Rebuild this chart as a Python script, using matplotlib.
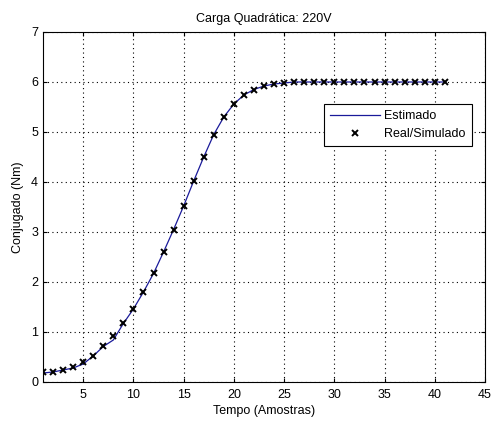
import matplotlib
matplotlib.use("Agg")
import matplotlib.pyplot as plt

plt.rcParams['font.family'] = ['Liberation Sans', 'DejaVu Sans']

tempo = list(range(1, 42))
real = [0.20, 0.20, 0.25, 0.30, 0.40, 0.53, 0.72, 0.93, 1.18, 1.47, 1.80, 2.18, 2.60,
        3.05, 3.52, 4.02, 4.50, 4.95, 5.30, 5.56, 5.74, 5.85, 5.92, 5.96, 5.98,
        6.0, 6.0, 6.0, 6.0, 6.0, 6.0, 6.0, 6.0, 6.0, 6.0, 6.0, 6.0, 6.0, 6.0, 6.0, 6.0]
estimado = [0.18, 0.20, 0.24, 0.28, 0.36, 0.52, 0.71, 0.84, 1.17, 1.46, 1.80, 2.17, 2.60,
            3.05, 3.52, 4.02, 4.50, 4.95, 5.30, 5.56, 5.74, 5.85, 5.92, 5.96, 5.98,
            6.0, 6.0, 6.0, 6.0, 6.0, 6.0, 6.0, 6.0, 6.0, 6.0, 6.0, 6.0, 6.0, 6.0, 6.0, 6.0]
xticks = [5, 10, 15, 20, 25, 30, 35, 40, 45]
yticks = [0, 1, 2, 3, 4, 5, 6, 7]

fig = plt.figure(figsize=(4.94, 4.21), dpi=100)
ax = fig.add_axes([43/494, 1-382/421, 442/494, 350/421])

ax.plot(tempo, estimado, color='#1a1a9a', lw=0.9, label='Estimado')
ax.plot(tempo, real, linestyle='none', marker='x', color='black', ms=4.5, mew=1.4,
        label='Real/Simulado')

ax.set_xlim(1, 45)
ax.set_ylim(0, 7)
ax.set_xticks(xticks)
ax.set_yticks(yticks)
ax.grid(True, color='black', linestyle=(0, (1, 3)), linewidth=0.8)
ax.tick_params(direction='in', labelsize=9, length=3, top=True, right=True)
ax.tick_params(axis='x', pad=5)
for s in ax.spines.values():
    s.set_linewidth(0.8)

ax.set_title('Carga Quadrática: 220V', fontsize=9, pad=7)
ax.set_xlabel('Tempo (Amostras)', fontsize=9, labelpad=3)
ax.set_ylabel('Conjugado (Nm)', fontsize=9, labelpad=5)

leg = ax.legend(loc='upper right', bbox_to_anchor=(0.97, 0.794), borderaxespad=0,
                fontsize=9, fancybox=False, edgecolor='black', framealpha=1,
                handlelength=4.0, handletextpad=0.3, borderpad=0.5, labelspacing=0.45)
leg.get_frame().set_linewidth(0.8)

fig.savefig('out.png', dpi=100, facecolor='white')
